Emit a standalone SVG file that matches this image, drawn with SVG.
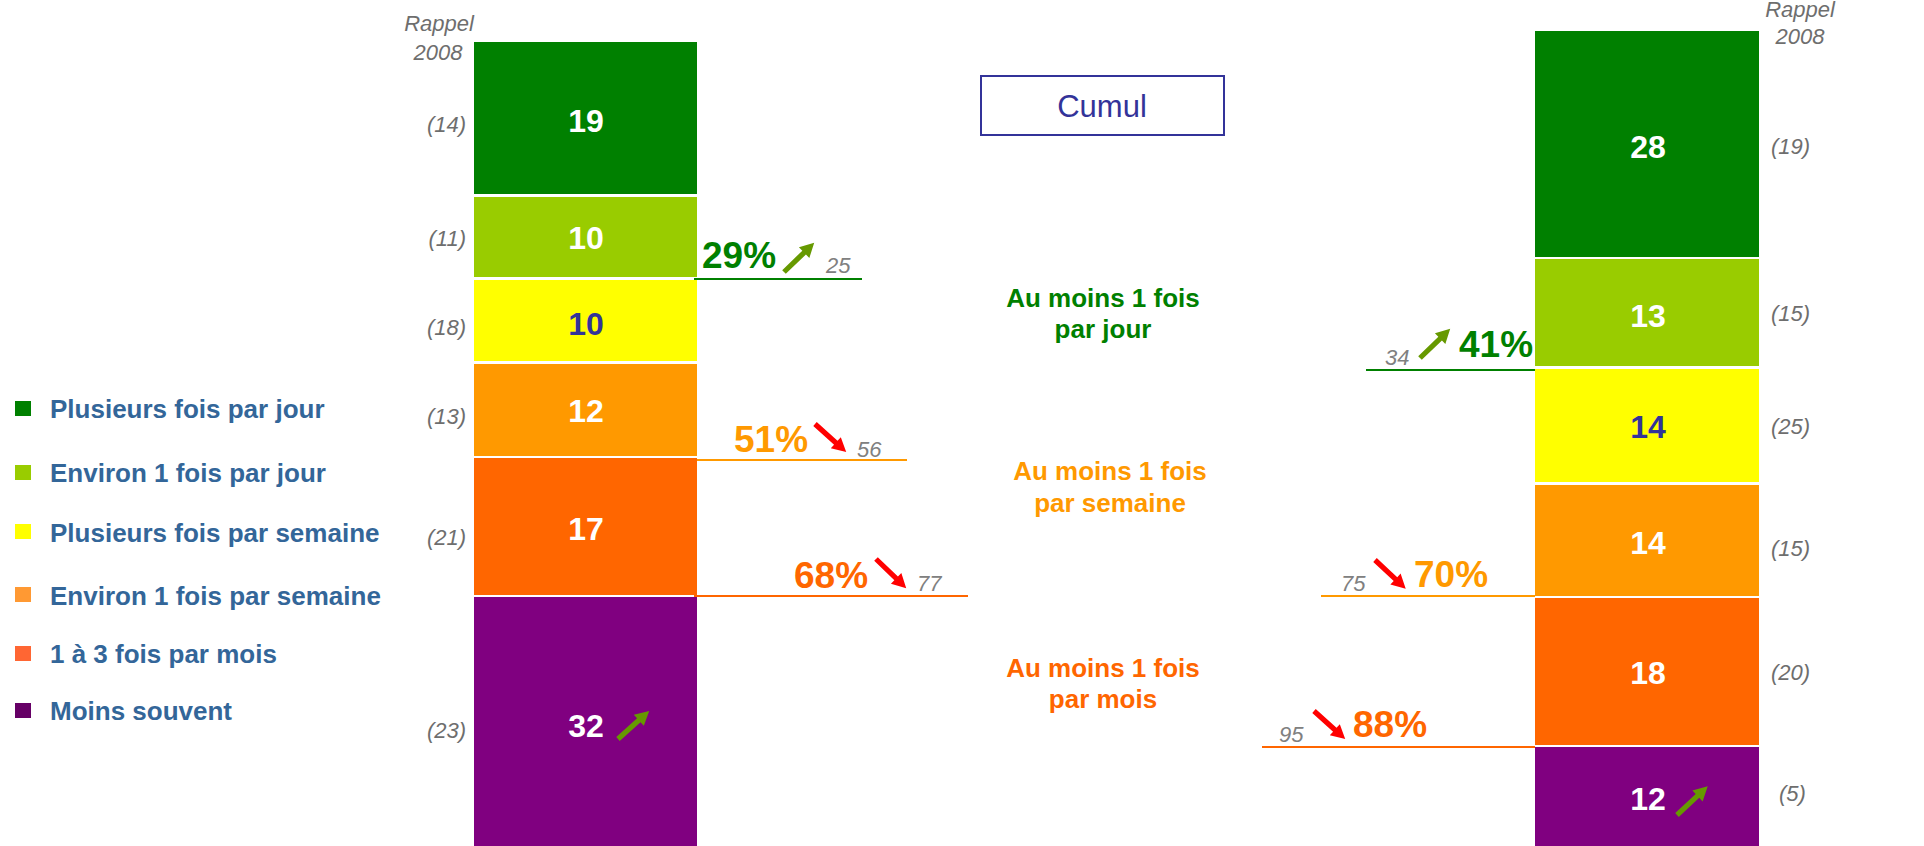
<svg xmlns="http://www.w3.org/2000/svg" xmlns:xlink="http://www.w3.org/1999/xlink" width="1924" height="846" viewBox="0 0 1924 846">
<style>
text{font-family:"Liberation Sans",Arial,Helvetica,sans-serif}
.num{font-size:32px;font-weight:bold;fill:#fff;text-anchor:middle}
.numb{fill:#333399}
.rap{font-size:22px;font-style:italic;fill:#6e6e6e}
.rapL{text-anchor:end}
.rapT{text-anchor:middle}
.small{font-size:22px;font-style:italic;fill:#808080}
.pct{font-size:37px;font-weight:bold}
.leg{font-size:26px;font-weight:bold;fill:#336699}
.mid{font-size:26px;font-weight:bold;text-anchor:middle}
.g{fill:#008000}.o{fill:#FF9900}.r{fill:#FF6600}
.cl{stroke-width:2;fill:none}
</style>
<defs>
<path id="arrow" d="M0,-2.6 L28,-2.6 L28,-7.5 L42,0 L28,7.5 L28,2.6 L0,2.6 Z"/>
</defs>
<rect width="1924" height="846" fill="#fff"/>

<g id="legend">
<rect x="15" y="401" width="16" height="15" fill="#008000"/>
<text class="leg" x="50" y="418">Plusieurs fois par jour</text>
<rect x="15" y="465" width="16" height="15" fill="#99CC00"/>
<text class="leg" x="50" y="482">Environ 1 fois par jour</text>
<rect x="15" y="524" width="16" height="15" fill="#FFFF00"/>
<text class="leg" x="50" y="542">Plusieurs fois par semaine</text>
<rect x="15" y="587" width="16" height="15" fill="#FF9933"/>
<text class="leg" x="50" y="605">Environ 1 fois par semaine</text>
<rect x="15" y="646" width="16" height="15" fill="#FF6633"/>
<text class="leg" x="50" y="663">1 à 3 fois par mois</text>
<rect x="15" y="703" width="16" height="15" fill="#660066"/>
<text class="leg" x="50" y="720">Moins souvent</text>
</g>

<g id="left-bar">
<rect x="474" y="42" width="223" height="152" fill="#008000"/>
<rect x="474" y="197" width="223" height="80" fill="#99CC00"/>
<rect x="474" y="280" width="223" height="81" fill="#FFFF00"/>
<rect x="474" y="364" width="223" height="92" fill="#FF9900"/>
<rect x="474" y="458" width="223" height="137" fill="#FF6600"/>
<rect x="474" y="597" width="223" height="249" fill="#800080"/>
<text class="num" x="586" y="132">19</text>
<text class="num" x="586" y="249">10</text>
<text class="num numb" x="586" y="335">10</text>
<text class="num" x="586" y="422">12</text>
<text class="num" x="586" y="540">17</text>
<text class="num" x="586" y="737">32</text>
<text class="rap rapT" x="439" y="31">Rappel</text>
<text class="rap rapT" x="438" y="60">2008</text>
<text class="rap rapL" x="466" y="132">(14)</text>
<text class="rap rapL" x="466" y="246">(11)</text>
<text class="rap rapL" x="466" y="335">(18)</text>
<text class="rap rapL" x="466" y="424">(13)</text>
<text class="rap rapL" x="466" y="545">(21)</text>
<text class="rap rapL" x="466" y="738">(23)</text>
</g>

<g id="right-bar">
<rect x="1535" y="31" width="224" height="226" fill="#008000"/>
<rect x="1535" y="259" width="224" height="107" fill="#99CC00"/>
<rect x="1535" y="369" width="224" height="113" fill="#FFFF00"/>
<rect x="1535" y="485" width="224" height="111" fill="#FF9900"/>
<rect x="1535" y="598" width="224" height="147" fill="#FF6600"/>
<rect x="1535" y="747" width="224" height="99" fill="#800080"/>
<text class="num" x="1648" y="158">28</text>
<text class="num" x="1648" y="327">13</text>
<text class="num numb" x="1648" y="438">14</text>
<text class="num" x="1648" y="554">14</text>
<text class="num" x="1648" y="684">18</text>
<text class="num" x="1648" y="810">12</text>
<text class="rap rapT" x="1800" y="17">Rappel</text>
<text class="rap rapT" x="1800" y="44">2008</text>
<text class="rap" x="1771" y="154">(19)</text>
<text class="rap" x="1771" y="321">(15)</text>
<text class="rap" x="1771" y="434">(25)</text>
<text class="rap" x="1771" y="556">(15)</text>
<text class="rap" x="1771" y="680">(20)</text>
<text class="rap" x="1779" y="801">(5)</text>
</g>

<g id="cumul">
<rect x="981" y="76" width="243" height="59" fill="none" stroke="#333399" stroke-width="2"/>
<text x="1102" y="117" font-size="31" fill="#333399" text-anchor="middle">Cumul</text>
</g>

<g id="mid-labels">
<text class="mid g" x="1103" y="307">Au moins 1 fois</text>
<text class="mid g" x="1103" y="338">par jour</text>
<text class="mid o" x="1110" y="480">Au moins 1 fois</text>
<text class="mid o" x="1110" y="512">par semaine</text>
<text class="mid r" x="1103" y="677">Au moins 1 fois</text>
<text class="mid r" x="1103" y="708">par mois</text>
</g>

<g id="connectors">
<line class="cl" x1="694" y1="279" x2="862" y2="279" stroke="#008000"/>
<line class="cl" x1="697" y1="460" x2="907" y2="460" stroke="#FF9900"/>
<line class="cl" x1="694" y1="596" x2="968" y2="596" stroke="#FF6600"/>
<line class="cl" x1="1366" y1="370" x2="1535" y2="370" stroke="#008000"/>
<line class="cl" x1="1321" y1="596" x2="1535" y2="596" stroke="#FF9900"/>
<line class="cl" x1="1262" y1="747" x2="1535" y2="747" stroke="#FF6600"/>
</g>

<g id="cumul-left">
<text class="pct g" x="702" y="268">29%</text>
<text class="small" x="826" y="273">25</text>
<text class="pct o" x="734" y="452">51%</text>
<text class="small" x="857" y="457">56</text>
<text class="pct r" x="794" y="588">68%</text>
<text class="small" x="917" y="591">77</text>
</g>
<g id="cumul-right">
<text class="small" x="1385" y="365">34</text>
<text class="pct g" x="1459" y="357">41%</text>
<text class="small" x="1341" y="591">75</text>
<text class="pct o" x="1414" y="587">70%</text>
<text class="small" x="1279" y="742">95</text>
<text class="pct r" x="1353" y="737">88%</text>
</g>

<g id="arrows">
<use xlink:href="#arrow" fill="#669900" transform="translate(784,272) rotate(-44)"/>
<use xlink:href="#arrow" fill="#FF0000" transform="translate(815,424) rotate(42)"/>
<use xlink:href="#arrow" fill="#FF0000" transform="translate(876,559) rotate(44)"/>
<use xlink:href="#arrow" fill="#669900" transform="translate(618,739) rotate(-42)"/>
<use xlink:href="#arrow" fill="#669900" transform="translate(1420,358) rotate(-44)"/>
<use xlink:href="#arrow" fill="#FF0000" transform="translate(1375,560) rotate(43)"/>
<use xlink:href="#arrow" fill="#FF0000" transform="translate(1314,711) rotate(42)"/>
<use xlink:href="#arrow" fill="#669900" transform="translate(1677,815) rotate(-43)"/>
</g>
</svg>
